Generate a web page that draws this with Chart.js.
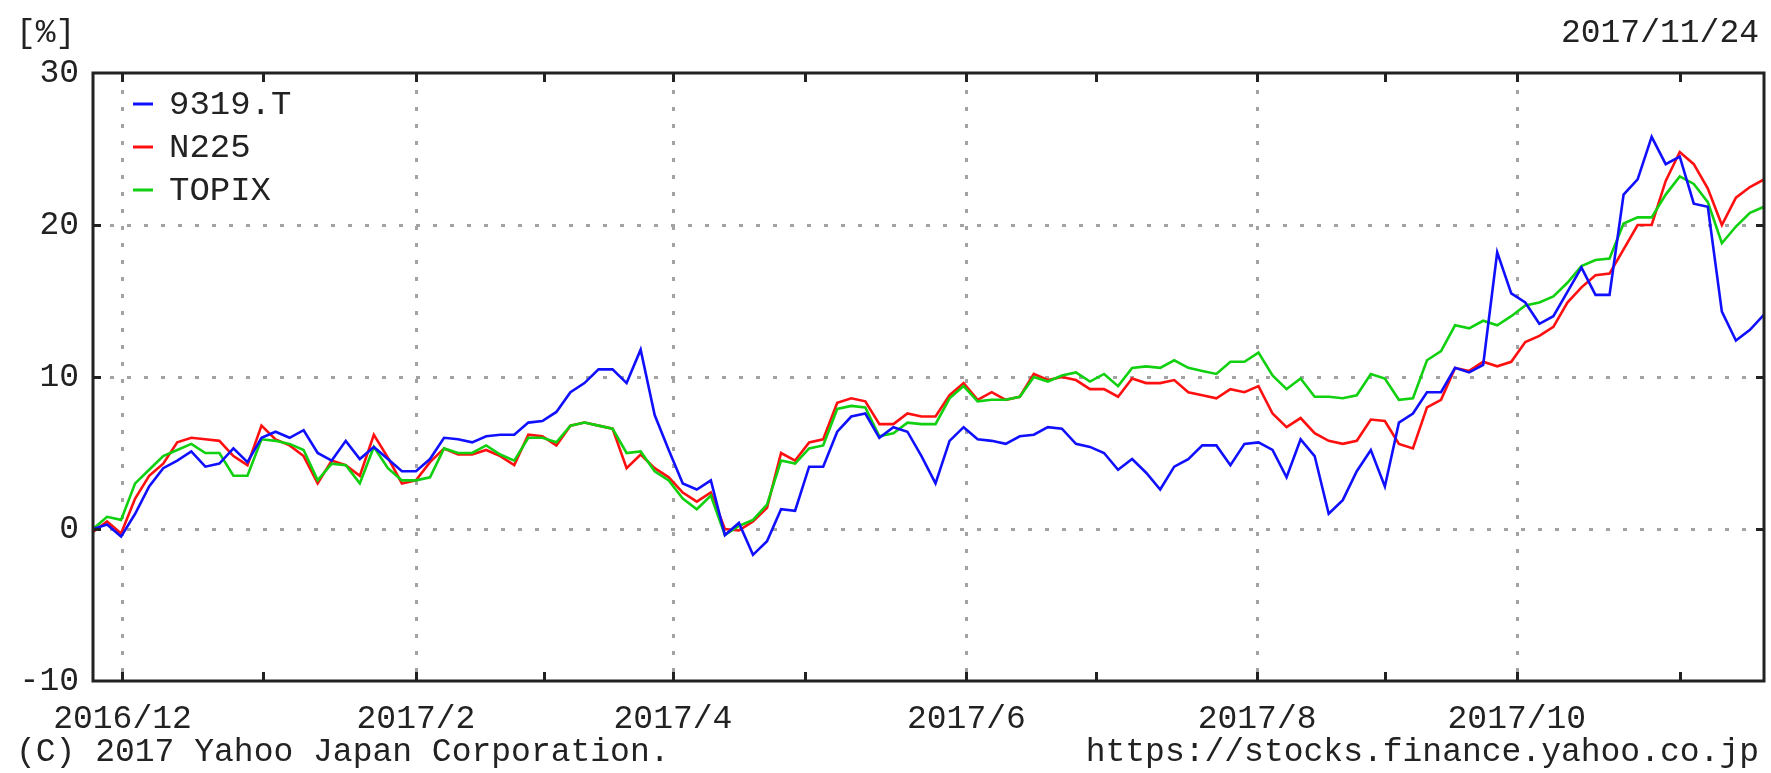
<!DOCTYPE html>
<html>
<head>
<meta charset="utf-8">
<title>9319.T / N225 / TOPIX</title>
<script src="https://cdn.jsdelivr.net/npm/chart.js"></script>
<style>
  html, body { margin: 0; padding: 0; background: #fff; }
  #wrap { position: relative; width: 1771px; height: 773px; }
  .txt {
    position: absolute;
    font-family: 'Liberation Mono', monospace;
    font-size: 33px;
    line-height: 33px;
    color: #222;
    white-space: pre;
  }
</style>
</head>
<body>
<div id="wrap">
  <canvas id="chart"></canvas>
  <div class="txt" style="left:16px; top:17px;">[%]</div>
  <div class="txt" style="right:12px; top:17px;">2017/11/24</div>
  <div class="txt" style="left:16px; top:736px;">(C) 2017 Yahoo Japan Corporation.</div>
  <div class="txt" style="right:12px; top:736px;">https://stocks.finance.yahoo.co.jp</div>
</div>
<script>
// 系列名
const seriesNames = ['9319.T', 'N225', 'TOPIX'];
const seriesColors = ['#1010ff', '#ff1010', '#10d010'];

// 2016/11/24 ～ 2017/11/24, 約2営業日ごとの読み取り値 [%]
const stock9319 = [
  0.0, 0.3, -0.5, 1.0, 2.8, 4.0, 4.5, 5.1, 4.1, 4.3,
  5.3, 4.4, 6.0, 6.4, 6.0, 6.5, 5.0, 4.5, 5.8, 4.6,
  5.4, 4.6, 3.8, 3.8, 4.6, 6.0, 5.9, 5.7, 6.1, 6.2,
  6.2, 7.0, 7.1, 7.7, 9.0, 9.6, 10.5, 10.5, 9.6, 11.8,
  7.5, 5.2, 3.0, 2.6, 3.2, -0.4, 0.4, -1.7, -0.8, 1.3,
  1.2, 4.1, 4.1, 6.4, 7.4, 7.6, 6.0, 6.7, 6.4, 4.8,
  3.0, 5.8, 6.7, 5.9, 5.8, 5.6, 6.1, 6.2, 6.7, 6.6,
  5.6, 5.4, 5.0, 3.9, 4.6, 3.7, 2.6, 4.1, 4.6, 5.5,
  5.5, 4.2, 5.6, 5.7, 5.2, 3.4, 5.9, 4.8, 1.0, 1.9,
  3.8, 5.2, 2.8, 7.0, 7.6, 9.0, 9.0, 10.6, 10.3, 10.8,
  18.2, 15.5, 14.9, 13.5, 14.0, 15.6, 17.2, 15.4, 15.4, 22.0,
  23.0, 25.8, 24.0, 24.5, 21.4, 21.2, 14.3, 12.4, 13.1, 14.1
];
const n225 = [
  -0.2, 0.5, -0.3, 2.0, 3.5, 4.3, 5.7, 6.0, 5.9, 5.8,
  4.8, 4.2, 6.8, 5.9, 5.5, 4.8, 3.0, 4.5, 4.2, 3.5,
  6.2, 4.7, 3.0, 3.2, 4.4, 5.3, 4.9, 4.9, 5.2, 4.8,
  4.2, 6.2, 6.1, 5.5, 6.8, 7.0, 6.8, 6.6, 4.0, 4.9,
  4.0, 3.4, 2.4, 1.8, 2.4, 0.0, -0.1, 0.5, 1.4, 5.0,
  4.5, 5.7, 5.9, 8.3, 8.6, 8.4, 6.9, 6.9, 7.6, 7.4,
  7.4, 8.8, 9.6, 8.5, 9.0, 8.5, 8.7, 10.2, 9.8, 10.0,
  9.8, 9.2, 9.2, 8.7, 9.9, 9.6, 9.6, 9.8, 9.0, 8.8,
  8.6, 9.2, 9.0, 9.4, 7.6, 6.7, 7.3, 6.3, 5.8, 5.6,
  5.8, 7.2, 7.1, 5.6, 5.3, 8.0, 8.5, 10.6, 10.4, 11.0,
  10.7, 11.0, 12.3, 12.7, 13.3, 14.9, 15.9, 16.7, 16.8, 18.4,
  20.0, 20.0, 22.9, 24.8, 24.0, 22.4, 20.0, 21.8, 22.5, 23.0
];
const topix = [
  0.0, 0.8, 0.6, 3.0, 3.9, 4.8, 5.2, 5.6, 5.0, 5.0,
  3.5, 3.5, 5.9, 5.8, 5.6, 5.2, 3.2, 4.3, 4.2, 3.0,
  5.4, 4.0, 3.2, 3.2, 3.4, 5.3, 5.0, 5.0, 5.5, 4.9,
  4.5, 6.0, 6.0, 5.7, 6.8, 7.0, 6.8, 6.6, 5.0, 5.1,
  3.8, 3.2, 2.0, 1.3, 2.2, -0.4, 0.2, 0.6, 1.6, 4.5,
  4.3, 5.3, 5.5, 7.9, 8.1, 8.0, 6.1, 6.3, 7.0, 6.9,
  6.9, 8.6, 9.4, 8.4, 8.5, 8.5, 8.7, 10.0, 9.7, 10.1,
  10.3, 9.7, 10.2, 9.4, 10.6, 10.7, 10.6, 11.1, 10.6, 10.4,
  10.2, 11.0, 11.0, 11.6, 10.1, 9.2, 9.9, 8.7, 8.7, 8.6,
  8.8, 10.2, 9.9, 8.5, 8.6, 11.1, 11.7, 13.4, 13.2, 13.7,
  13.4, 14.0, 14.7, 14.9, 15.3, 16.2, 17.3, 17.7, 17.8, 20.1,
  20.5, 20.5, 22.0, 23.2, 22.7, 21.5, 18.8, 19.9, 20.8, 21.2
];

// 月初の位置 (サンプル番号), 目盛ラベル
const monthPos = [2.1, 12.1, 23.0, 32.1, 41.3, 50.7, 62.2, 71.4, 82.9, 92.0, 101.4, 113.0];
const monthLabels = ['2016/12', '', '2017/2', '', '2017/4', '', '2017/6', '', '2017/8', '', '2017/10', ''];
const yTicks = [-10, 0, 10, 20, 30];
const yGrid = [0, 10, 20];

const labeledMonths = monthPos
  .map((v, k) => ({ value: v, text: monthLabels[k] }))
  .filter(m => m.text);

function toPoints(values) {
  return values.map((v, i) => ({ x: i, y: v }));
}

// 点線グリッド、枠、目盛、凡例
const framePlugin = {
  id: 'frame',
  beforeDatasetsDraw(chart) {
    const { ctx, chartArea: a, scales: { x, y } } = chart;
    ctx.save();
    ctx.strokeStyle = '#a3a3a3';
    ctx.lineWidth = 3;
    ctx.setLineDash([4, 13]);
    yGrid.forEach(v => {
      const py = Math.round(y.getPixelForValue(v)) + 0.5;
      ctx.beginPath();
      ctx.moveTo(a.left, py);
      ctx.lineTo(a.right, py);
      ctx.stroke();
    });
    labeledMonths.forEach(m => {
      const px = Math.round(x.getPixelForValue(m.value)) + 0.5;
      ctx.beginPath();
      ctx.moveTo(px, a.top);
      ctx.lineTo(px, a.bottom);
      ctx.stroke();
    });
    ctx.restore();
  },
  afterDatasetsDraw(chart) {
    const { ctx, chartArea: a, scales: { x, y } } = chart;
    ctx.save();
    ctx.strokeStyle = '#222';
    ctx.lineWidth = 3;
    ctx.setLineDash([]);
    ctx.strokeRect(a.left, a.top, a.right - a.left, a.bottom - a.top);

    ctx.beginPath();
    monthPos.forEach(v => {
      const px = Math.round(x.getPixelForValue(v)) + 0.5;
      ctx.moveTo(px, a.bottom);
      ctx.lineTo(px, a.bottom - 9);
      ctx.moveTo(px, a.top);
      ctx.lineTo(px, a.top + 9);
    });
    yGrid.forEach(v => {
      const py = Math.round(y.getPixelForValue(v)) + 0.5;
      ctx.moveTo(a.left, py);
      ctx.lineTo(a.left + 8, py);
      ctx.moveTo(a.right, py);
      ctx.lineTo(a.right - 8, py);
    });
    ctx.stroke();

    // 凡例
    ctx.font = '34px "Liberation Mono", monospace';
    ctx.textBaseline = 'middle';
    ctx.textAlign = 'left';
    seriesNames.forEach((name, k) => {
      const ly = a.top + 31 + k * 43;
      ctx.strokeStyle = seriesColors[k];
      ctx.lineWidth = 3;
      ctx.beginPath();
      ctx.moveTo(a.left + 40, ly);
      ctx.lineTo(a.left + 60, ly);
      ctx.stroke();
      ctx.fillStyle = '#222';
      ctx.fillText(name, a.left + 76, ly + 1);
    });
    ctx.restore();
  }
};

Chart.defaults.font.family = '"Liberation Mono", monospace';
Chart.defaults.font.size = 33;
Chart.defaults.color = '#222';

const ctx = document.getElementById('chart').getContext('2d');
new Chart(ctx, {
  type: 'line',
  data: {
    datasets: [
      { label: seriesNames[0], data: toPoints(stock9319), borderColor: seriesColors[0], order: 0 },
      { label: seriesNames[1], data: toPoints(n225), borderColor: seriesColors[1], order: 2 },
      { label: seriesNames[2], data: toPoints(topix), borderColor: seriesColors[2], order: 1 }
    ]
  },
  options: {
    responsive: true,
    maintainAspectRatio: false,
    animation: false,
    layout: { padding: { left: 0, top: 73, right: 7, bottom: 42 } },
    elements: {
      line: { borderWidth: 2.6, tension: 0 },
      point: { radius: 0 }
    },
    plugins: {
      legend: { display: false },
      tooltip: { enabled: false }
    },
    scales: {
      x: {
        type: 'linear',
        min: 0,
        max: stock9319.length - 1,
        grid: { display: false },
        border: { display: false },
        afterBuildTicks(scale) {
          scale.ticks = labeledMonths.map(m => ({ value: m.value }));
        },
        afterFit(scale) { scale.height = 50; },
        ticks: {
          autoSkip: false,
          maxRotation: 0,
          padding: 10,
          callback: (value, index) => labeledMonths[index] ? labeledMonths[index].text : ''
        }
      },
      y: {
        min: -10,
        max: 30,
        grid: { display: false },
        border: { display: false },
        afterBuildTicks(scale) {
          scale.ticks = yTicks.map(v => ({ value: v }));
        },
        afterFit(scale) { scale.width = 93; },
        ticks: { padding: 6 }
      }
    }
  },
  plugins: [framePlugin]
});
</script>
</body>
</html>
